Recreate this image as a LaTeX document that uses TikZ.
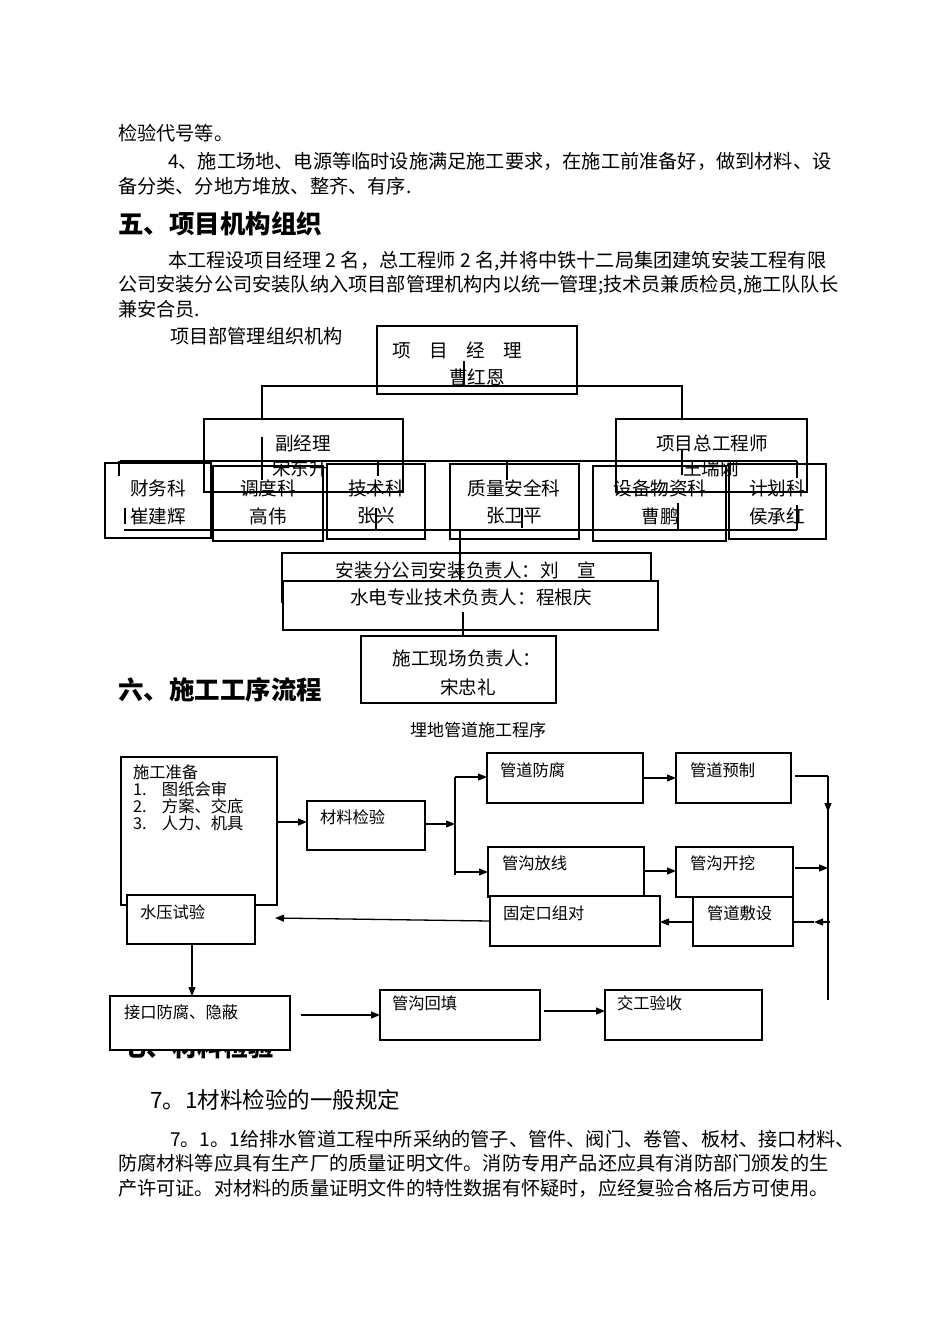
\documentclass[tikz,border=0pt]{standalone}
\usepackage{fontspec}
\setmainfont{Noto Sans CJK SC}
\usetikzlibrary{arrows.meta}
\begin{document}
\begin{tikzpicture}[x=1pt,y=-1pt,
  txt/.style={anchor=west,inner sep=0pt,outer sep=0pt,font=\fontsize{19.2}{22}\selectfont},
  head/.style={anchor=west,inner sep=0pt,outer sep=0pt,font=\fontsize{25.5}{28}\selectfont\bfseries},
  org/.style={inner sep=0pt,outer sep=0pt,font=\fontsize{18.6}{20}\selectfont},
  bx/.style n args={4}{anchor=north west,at={(#1,#2)},minimum width={(#3-#1)*1pt},minimum height={(#4-#2)*1pt},inner sep=0pt,outer sep=0pt},
  ob/.style={draw,line width=1.8pt},
  fb/.style={draw,line width=1.3pt},
  ft/.style={anchor=west,inner sep=0pt,outer sep=0pt,font=\fontsize{16.3}{18}\selectfont},
  ln/.style={line width=1.8pt},
  fl/.style={line width=1.3pt},
  arr/.style={line width=1.3pt,-{Triangle[length=9pt,width=7pt]}}
]
\useasboundingbox[fill=white] (0,0) rectangle (950,1344);

% ---------- body text ----------
\node[txt] (t1) at (118,133) {检验代号等。};
\node[txt] (t2) at (168,161) {4、施工场地、电源等临时设施满足施工要求，在施工前准备好，做到材料、设};
\node[txt] (t3) at (118,186) {备分类、分地方堆放、整齐、有序.};
\node[head] (h5) at (118,224) {五、项目机构组织};
\node[txt] (t4) at (168,261) {本工程设项目经理 2 名，总工程师 2 名,并将中铁十二局集团建筑安装工程有限};
\node[txt] (t5) at (118,285) {公司安装分公司安装队纳入项目部管理机构内以统一管理;技术员兼质检员,施工队队长};
\node[txt] (t6) at (118,309) {兼安合员.};
\node[txt] (t7) at (170,336) {项目部管理组织机构};

% ---------- org chart ----------
\node[ob,bx={377}{326}{577}{394}] (pm) {};
\node[org,anchor=west] (pmt) at (392,350) {项　目　经　理};
\node[org] (pmn) at (477,377) {曹红恩};

\node[ob,bx={204}{419}{403}{492}] (fj) {};
\node[org] (fjt) at (303,443) {副经理};
\node[ob,bx={616}{419}{807}{492}] (zg) {};
\node[org] (zgt) at (712,443) {项目总工程师};
\begin{scope}
  \clip (100,462) rectangle (850,500);
  \node[org] (fjn) at (300,468) {宋东升};
  \node[org] (zgn) at (711,468) {王瑞刚};
\end{scope}

\node[ob,bx={105}{463}{211}{538}] (cw) {};
\node[ob,bx={213}{466}{323}{541}] (dd) {};
\node[ob,bx={327}{464}{425}{539}] (js) {};
\node[ob,bx={450}{464}{579}{539}] (zl) {};
\node[ob,bx={593}{466}{726}{541}] (sb) {};
\node[ob,bx={729}{464}{826}{539}] (jh) {};
\node[org] (cw1) at (158,488) {财务科};
\node[org] (cw2) at (158,516) {崔建辉};
\node[org] (dd1) at (268,488) {调度科};
\node[org] (dd2) at (268,516) {高伟};
\node[org] (js1) at (376,488) {技术科};
\node[org] (js2) at (376,516) {张兴};
\node[org] (zl1) at (514,488) {质量安全科};
\node[org] (zl2) at (514,516) {张卫平};
\node[org] (sb1) at (660,488) {设备物资科};
\node[org] (sb2) at (660,516) {曹鹏};
\node[org] (jh1) at (777,488) {计划科};
\node[org] (jh2) at (777,516) {侯承红};

% connectors of the org chart
\coordinate (h1) at (262,386);
\coordinate (h2) at (682,386);
\coordinate (pmv) at (464,361);
\draw[ln] (pmv) -- (pmv |- h1);
\draw[ln] (h1 |- fj.north) -- (h1) -- (h2) -- (h2 |- zg.north);
\coordinate (ta) at (120,461);
\coordinate (tb) at (797,461);
\coordinate (ba) at (124,530);
\coordinate (bb) at (797,530);
\draw[ln] (ta) -- (tb);
\draw[ln] (ba) -- (bb);
\draw[ln] (119,461) -- (119,476);
\draw[ln] (125,508) -- (125,524);
\draw[ln] (262,437) -- (262,480);
\draw[ln] (378,461) -- (378,476);
\draw[ln] (376,508) -- (376,530);
\draw[ln] (507,461) -- (507,480);
\draw[ln] (522,508) -- (522,528);
\draw[ln] (682,450) -- (682,475);
\draw[ln] (678,503) -- (678,530);
\draw[ln] (797,461) -- (797,478);
\draw[ln] (797,505) -- (797,530);

\node[ob,bx={282}{553}{651}{602}] (az) {};
\node[org] (azt) at (466,570) {安装分公司安装负责人：刘　宣};
\coordinate (azv) at (460,530);
\draw[ln] (azv) -- (460,582);
\node[ob,fill=white,bx={283}{581}{658}{630}] (sd) {};
\node[org] (sdt) at (471,597) {水电专业技术负责人：程根庆};
\node[ob,bx={361}{636}{556}{703}] (xc) {};
\node[org] (xct1) at (467,658) {施工现场负责人：};
\node[org] (xct2) at (468,687) {宋忠礼};
\coordinate (sdv) at (463,612);
\draw[ln] (sdv) -- (sdv |- xc.north);

% ---------- flow chart ----------
\node[head] (h6) at (118,690) {六、施工工序流程};
\node[anchor=west,inner sep=0pt,font=\fontsize{17}{19}\selectfont] (ftitle) at (410,730) {埋地管道施工程序};

\node[fb,bx={121}{757}{277}{905}] (prep) {};
\node[ft] (prep0) at (133,772) {施工准备};
\node[ft] (prep1) at (133,789) {\makebox[29pt][l]{1.}图纸会审};
\node[ft] (prep2) at (133,806) {\makebox[29pt][l]{2.}方案、交底};
\node[ft] (prep3) at (133,823) {\makebox[29pt][l]{3.}人力、机具};
\node[fb,fill=white,bx={127}{895}{255}{944}] (hyd) {};
\node[ft] (hydt) at (140,912) {水压试验};
\node[fb,bx={307}{801}{425}{850}] (mat) {};
\node[ft] (matt) at (320,817) {材料检验};
\node[fb,bx={487}{753}{643}{803}] (ff) {};
\node[ft] (fft) at (500,770) {管道防腐};
\node[fb,bx={676}{753}{791}{803}] (yz) {};
\node[ft] (yzt) at (690,770) {管道预制};
\node[fb,bx={488}{847}{644}{897}] (fx) {};
\node[ft] (fxt) at (502,863) {管沟放线};
\node[fb,bx={676}{847}{793}{897}] (kw) {};
\node[ft] (kwt) at (690,863) {管沟开挖};
\node[fb,fill=white,bx={490}{896}{660}{946}] (gd) {};
\node[ft] (gdt) at (503,913) {固定口组对};
\node[fb,bx={693}{897}{793}{946}] (fs) {};
\node[ft] (fst) at (707,913) {管道敷设};

% heading 7 partly hidden by the next box
\node[head] (h7) at (121,1047) {七、材料检验};
\node[fb,fill=white,bx={110}{996}{290}{1050}] (jk) {};
\node[ft] (jkt) at (124,1012) {接口防腐、隐蔽};
\node[fb,bx={380}{990}{540}{1040}] (ht) {};
\node[ft] (htt) at (392,1003) {管沟回填};
\node[fb,bx={605}{990}{762}{1040}] (jg) {};
\node[ft] (jgt) at (617,1003) {交工验收};

% arrows
\coordinate (br) at (455,824);
\coordinate (rv) at (828,776);
\coordinate (rvb) at (828,1000);
\draw[arr] (prep.east |- 0,822) -- (mat.west |- 0,822);
\draw[arr] (mat.east |- 0,824) -- (br);
\draw[fl] (br |- 0,777) -- (br |- 0,875);
\draw[arr] (br |- 0,777) -- (ff.west |- 0,777);
\draw[arr] (br |- 0,872) -- (fx.west |- 0,872);
\draw[arr] (ff.east |- 0,778) -- (yz.west |- 0,778);
\draw[arr] (fx.east |- 0,871) -- (kw.west |- 0,871);
\draw[fl] (795,776) -- (rv);
\draw[fl] (rv) -- (rvb);
\draw[arr] (rv) -- (828,812);
\draw[arr] (795,868) -- (828,868);
\draw[arr] (830,922) -- (814,922);
\draw[fl] (814,922) -- (fs.east |- 0,922);
\draw[arr] (fs.west |- 0,922) -- (gd.east |- 0,922);
\draw[arr] (gd.west |- 0,921) -- (275,918);
\draw[arr] (hyd.south -| 192,0) -- (jk.north -| 192,0);
\draw[arr] (301,1015) -- (ht.west |- 0,1015);
\draw[arr] (544,1011) -- (jg.west |- 0,1011);

% ---------- 7.1 ----------
\node[anchor=west,inner sep=0pt,font=\fontsize{22.5}{25}\selectfont] (s71) at (150,1100) {7。1材料检验的一般规定};
\node[txt] (p1) at (170,1139) {7。1。1给排水管道工程中所采纳的管子、管件、阀门、卷管、板材、接口材料、};
\node[txt] (p2) at (118,1163) {防腐材料等应具有生产厂的质量证明文件。消防专用产品还应具有消防部门颁发的生};
\node[txt] (p3) at (118,1188) {产许可证。对材料的质量证明文件的特性数据有怀疑时，应经复验合格后方可使用。};
\end{tikzpicture}
\end{document}
